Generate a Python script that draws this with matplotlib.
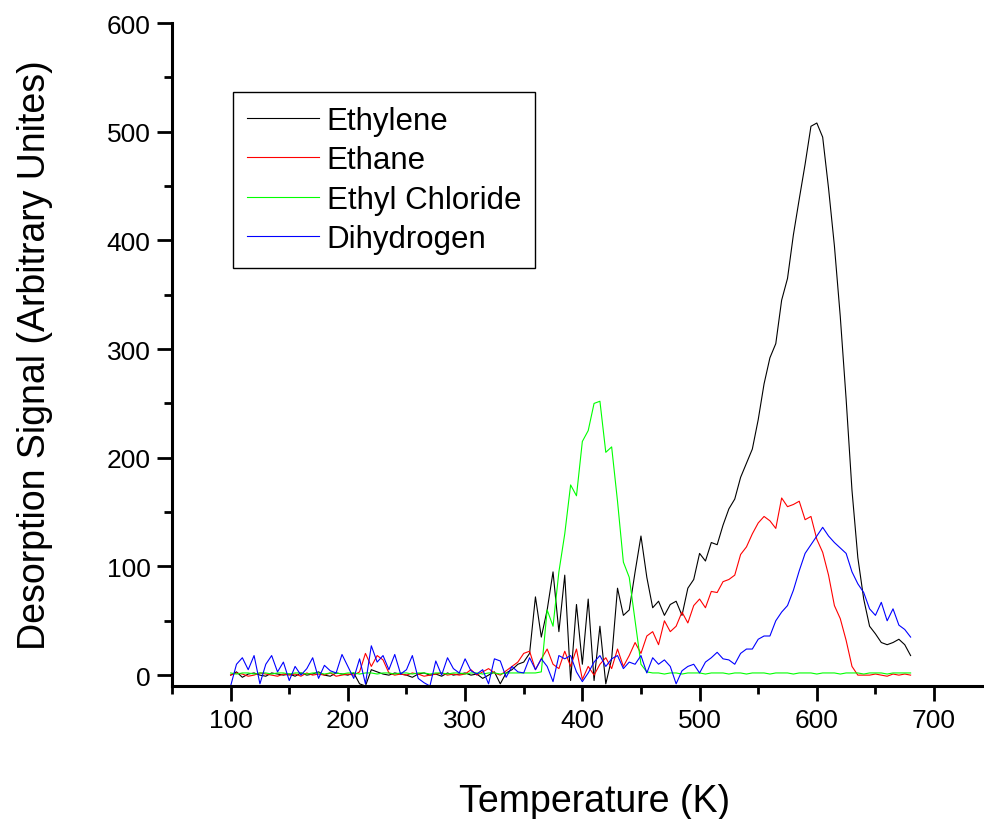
import numpy as np
import matplotlib
matplotlib.use("Agg")
import matplotlib.pyplot as plt
from matplotlib.ticker import MultipleLocator

plt.rcParams['font.family'] = ['Liberation Sans', 'DejaVu Sans']

# temperature grid in K, one value every 5 K
temperature = np.arange(100, 685, 5)

ethylene = [0, 3, -2, 1, 2, 0, -1, 2, 1, 0,
            1, -1, 2, 0, 1, 3, 0, -1, 2, 1,
            0, 2, -8, -10, 5, 3, 1, 0, 2, 1,
            0, -2, 1, 2, 0, 1, -1, 2, 0, 1,
            2, 0, 1, -3, 0, 3, -8, 2, 5, 10,
            12, 20, 72, 35, 60, 95, 40, 92, -5, 65,
            10, 70, -5, 45, -8, 15, 80, 55, 60, 95,
            128, 90, 62, 68, 55, 65, 68, 55, 80, 88,
            112, 105, 122, 120, 138, 153, 162, 182, 195, 208,
            235, 268, 292, 305, 345, 365, 405, 438, 470, 505,
            508, 495, 448, 395, 330, 254, 170, 108, 70, 45,
            38, 30, 28, 30, 33, 28, 18]

ethane = [0, 2, 1, -1, 0, 2, 1, 0, -1, 1,
          0, 1, -1, 2, 0, 1, 0, 2, -1, 0,
          1, 0, 3, 20, 8, 18, 14, 2, 0, 1,
          0, 2, 1, -1, 0, 1, 2, 0, 1, 0,
          1, 5, 0, 3, 6, 2, 0, 4, 8, 12,
          20, 22, 5, 15, 24, 10, 6, 22, 8, 24,
          -4, 8, 0, 10, 16, 6, 24, 8, 18, 30,
          20, 36, 40, 28, 50, 40, 45, 58, 48, 64,
          70, 62, 77, 76, 86, 88, 92, 111, 118, 130,
          140, 146, 142, 135, 163, 155, 157, 160, 143, 146,
          125, 113, 92, 64, 52, 32, 8, 0, 0, 0,
          1, 0, -1, 1, 0, 1, 0]

ethyl_chloride = [2, 1, 2, 2, 1, 2, 2, 1, 2, 2,
                  1, 2, 2, 1, 2, 2, 1, 2, 2, 1,
                  2, 2, 1, 2, 2, 1, 2, 2, 1, 2,
                  2, 1, 2, 2, 1, 2, 2, 1, 2, 2,
                  1, 2, 2, 1, 2, 2, 1, 2, 2, 2,
                  2, 2, 2, 3, 60, 45, 95, 130, 175, 165,
                  215, 225, 250, 252, 205, 210, 160, 104, 90, 50,
                  10, 3, 2, 2, 1, 2, 2, 1, 2, 2,
                  2, 1, 2, 2, 2, 1, 2, 2, 1, 2,
                  2, 2, 1, 2, 2, 2, 1, 2, 2, 2,
                  1, 2, 2, 2, 1, 2, 2, 2, 1, 2,
                  2, 2, 1, 2, 2, 2, 2]

dihydrogen = [-10, 10, 16, 5, 18, -8, 10, 18, 3, 12,
              -5, 8, 0, 6, 16, -3, 9, 4, 2, 19,
              8, -3, 15, -8, 27, 12, 18, 5, 19, 1,
              5, 18, -3, -7, -10, 13, 0, 16, 6, 2,
              15, 4, 1, 5, -8, 15, 13, -2, 8, 3,
              2, 16, 5, 15, 8, -6, 18, 15, 18, 3,
              -6, 2, 12, 18, 8, 15, 18, 6, 12, 10,
              18, 2, 16, 10, 14, 8, -8, 4, 8, 10,
              2, 12, 16, 21, 15, 14, 10, 20, 24, 24,
              33, 36, 36, 50, 58, 64, 78, 96, 112, 120,
              128, 136, 128, 122, 117, 112, 95, 84, 76, 61,
              55, 67, 50, 61, 46, 42, 35]

names = ["Ethylene", "Ethane", "Ethyl Chloride", "Dihydrogen"]
colours = ["#000000", "#ff0000", "#00ff00", "#0000ff"]

fig = plt.figure(figsize=(9.84, 8.2), dpi=100)
ax = fig.add_axes([0.1748, 0.1622, 0.8252, 0.8085])

for series, name, col in zip([ethylene, ethane, ethyl_chloride, dihydrogen], names, colours):
    ax.plot(temperature, series, color=col, lw=0.8, label=name)

ax.set_xlim(50, 742.6)
ax.set_ylim(-10, 600)
ax.xaxis.set_major_locator(MultipleLocator(100))
ax.xaxis.set_minor_locator(MultipleLocator(50))
ax.yaxis.set_major_locator(MultipleLocator(100))
ax.yaxis.set_minor_locator(MultipleLocator(50))

ax.spines['top'].set_visible(False)
ax.spines['right'].set_visible(False)
ax.spines['left'].set_linewidth(2.2)
ax.spines['bottom'].set_linewidth(2.2)
ax.tick_params(which='major', direction='out', length=10.5, width=2, labelsize=19, pad=5)
ax.tick_params(which='minor', direction='out', length=5.5, width=2)

ax.set_xlabel("Temperature (K)", fontsize=27)
ax.xaxis.set_label_coords(0.52, -0.146)
ax.set_ylabel("Desorption Signal (Arbitrary Unites)", fontsize=27)
ax.yaxis.set_label_coords(-0.146, 0.5)

leg = ax.legend(loc='upper left', bbox_to_anchor=(0.0751, 0.896), borderaxespad=0,
                fontsize=22.5, handlelength=2.3, handletextpad=0.25, labelspacing=0.3,
                borderpad=0.45, fancybox=False, framealpha=1)
leg.get_frame().set_edgecolor('black')
leg.get_frame().set_linewidth(1.0)

fig.savefig("out.png", dpi=100)
